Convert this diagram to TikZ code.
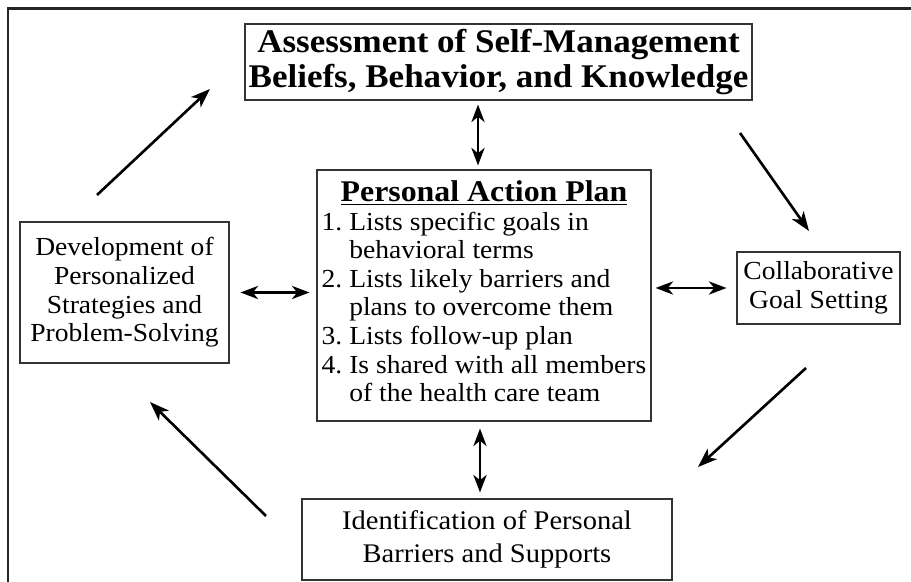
\documentclass[tikz,border=0pt]{standalone}
\usepackage{fontspec}
\setmainfont[FakeStretch=1.06]{Liberation Serif}
\usepackage{tikz}
\usetikzlibrary{positioning,arrows.meta,calc}

\begin{document}
\begin{tikzpicture}[
  box/.style={
    draw=black!80, line width=0.6pt,
    font=\fontsize{14.8}{16.3}\selectfont, align=center, inner sep=2pt
  },
  head/.style={font=\fontsize{18.8}{20}\selectfont\bfseries},
  a/.style={-{Stealth[length=11pt,width=8pt,inset=3pt]},line width=1.5pt},
  aa/.style={{Stealth[length=10pt,width=7.5pt,inset=3pt]}-{Stealth[length=10pt,width=7.5pt,inset=3pt]},line width=1.4pt}
]
\useasboundingbox (0,0) rectangle (18.22,11.64);
% Frame
\draw[line width=1.2pt,black!85] (18.22,11.47) -- (0.16,11.47) -- (0.16,0);

% Boxes
\node[box,head,minimum width=10.14cm,minimum height=1.52cm] (assess)
  at (9.97,10.40) {Assessment of Self-Management\\Beliefs, Behavior, and Knowledge};
\node[box,minimum width=6.68cm,minimum height=5.02cm] (plan) at (9.68,5.73)
  {\begin{tabular}{@{}l@{~}l@{}}
   \multicolumn{2}{c}{\fontsize{17.1}{18}\selectfont\underline{\textbf{Personal Action Plan}}}\\
   1. & Lists specific goals in\\
      & behavioral terms\\
   2. & Lists likely barriers and\\
      & plans to overcome them\\
   3. & Lists follow-up plan\\
   4. & Is shared with all members\\
      & of the health care team
   \end{tabular}};
\node[box,minimum width=4.18cm,minimum height=2.82cm] (dev) at (2.49,5.79)
  {Development of\\Personalized\\Strategies and\\Problem-Solving};
\node[box,minimum width=3.26cm,minimum height=1.44cm] (goal) at (16.37,5.88)
  {Collaborative\\Goal Setting};
\node[box,font=\fontsize{15.3}{18.5}\selectfont,minimum width=7.40cm,minimum height=1.62cm] (barr) at (9.74,0.85)
  {Identification of Personal\\Barriers and Supports};

% Cycle arrows
\coordinate (tl1) at (1.94,7.74);  \coordinate (tl2) at (4.20,9.86);
\coordinate (tr1) at (14.80,8.98); \coordinate (tr2) at (16.18,7.02);
\coordinate (br1) at (16.12,4.28); \coordinate (br2) at (13.96,2.30);
\coordinate (bl1) at (5.32,1.32);  \coordinate (bl2) at (3.00,3.60);
\draw[a] (tl1)--(tl2);
\draw[a] (tr1)--(tr2);
\draw[a] (br1)--(br2);
\draw[a] (bl1)--(bl2);

% Links to the plan
\draw[aa,shorten <=0.08cm,shorten >=0.08cm] ([xshift=-0.12cm]plan.north)--([xshift=-0.12cm]plan.north |- assess.south);
\draw[aa,shorten <=0.14cm,shorten >=0.12cm] ([xshift=-0.08cm]plan.south)--([xshift=-0.08cm]plan.south |- barr.north);
\draw[aa,shorten <=0.22cm,shorten >=0.14cm] (dev.east)--(dev.east -| plan.west);
\draw[aa,shorten <=0.08cm,shorten >=0.20cm] (plan.east |- goal.west)--(goal.west);
\end{tikzpicture}
\end{document}
